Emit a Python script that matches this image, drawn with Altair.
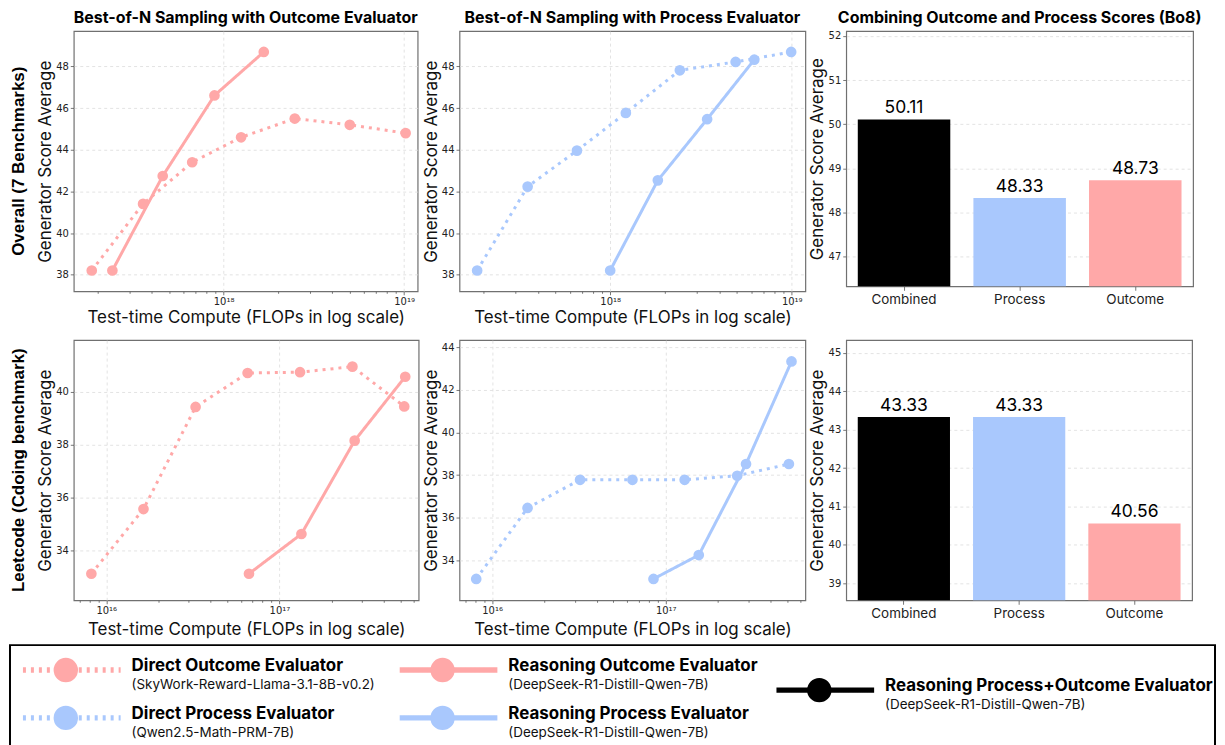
import altair as alt
import pandas as pd

PINK = "#ffa8a8"
BLUE = "#a9c8fd"
BLACK = "#000000"
SERIES = ["Direct", "Reasoning"]

# ---------------- Overall (7 benchmarks) ----------------
OVR_DIR_OUT_X = [1.86e17, 3.58e17, 6.70e17, 1.25e18, 2.48e18, 5.00e18, 1.02e19]
OVR_DIR_OUT_Y = [38.2, 41.4, 43.4, 44.6, 45.5, 45.2, 44.8]
OVR_RSN_OUT_X = [2.42e17, 4.60e17, 8.90e17, 1.67e18]
OVR_RSN_OUT_Y = [38.2, 42.74, 46.61, 48.7]
OVR_DIR_PRC_X = [1.85e17, 3.51e17, 6.56e17, 1.22e18, 2.42e18, 4.91e18, 9.93e18]
OVR_DIR_PRC_Y = [38.2, 42.23, 43.96, 45.77, 47.82, 48.22, 48.7]
OVR_RSN_PRC_X = [1.00e18, 1.83e18, 3.42e18, 6.22e18]
OVR_RSN_PRC_Y = [38.2, 42.53, 45.47, 48.33]

# ---------------- Leetcode ----------------
LC_DIR_OUT_X = [8.2e15, 1.64e16, 3.28e16, 6.55e16, 1.315e17, 2.64e17, 5.26e17]
LC_DIR_OUT_Y = [33.13, 35.57, 39.42, 40.70, 40.73, 40.94, 39.44]
LC_RSN_OUT_X = [6.67e16, 1.34e17, 2.72e17, 5.33e17]
LC_RSN_OUT_Y = [33.13, 34.63, 38.15, 40.56]
LC_DIR_PRC_X = [8.1e15, 1.60e16, 3.21e16, 6.43e16, 1.285e17, 2.58e17, 5.12e17]
LC_DIR_PRC_Y = [33.13, 36.46, 37.78, 37.78, 37.78, 37.97, 38.52]
LC_RSN_PRC_X = [8.5e16, 1.55e17, 2.90e17, 5.30e17]
LC_RSN_PRC_Y = [33.13, 34.25, 38.52, 43.33]

# ---------------- Bo8 bars ----------------
BAR_CATS = ["Combined", "Process", "Outcome"]
BAR_COLORS = [BLACK, BLUE, PINK]
OVR_BAR = [50.11, 48.33, 48.73]
LC_BAR = [43.33, 43.33, 40.56]

# ---------------- ticks / domains ----------------
TOP_X_DOMAIN = [1.479e17, 1.189e19]
BOT_X_DOMAIN = [6.49e15, 6.37e17]
TOP_X_TICKS = [m * 10.0 ** e for e in (17, 18) for m in range(2, 10)] + [1e18, 1e19]
BOT_X_TICKS = ([m * 1e15 for m in range(7, 10)] + [m * 1e16 for m in range(1, 10)]
               + [m * 1e17 for m in range(1, 7)])
OVR_Y_TICKS = [38, 40, 42, 44, 46, 48]
LC_OUT_Y_TICKS = [34, 36, 38, 40]
LC_PRC_Y_TICKS = [34, 36, 38, 40, 42, 44]
OVR_BAR_TICKS = [47, 48, 49, 50, 51, 52]
LC_BAR_TICKS = [39, 40, 41, 42, 43, 44, 45]

TITLES = ["Best-of-N Sampling with Outcome Evaluator",
          "Best-of-N Sampling with Process Evaluator",
          "Combining Outcome and Process Scores (Bo8)"]
ROW_LABELS = ["Overall (7 Benchmarks)", "Leetcode (Cdoing benchmark)"]
X_TITLE = "Test-time Compute (FLOPs in log scale)"
Y_TITLE = "Generator Score Average"

LEG_NAMES = ["Direct Outcome Evaluator", "Direct Process Evaluator",
             "Reasoning Outcome Evaluator", "Reasoning Process Evaluator",
             "Reasoning Process+Outcome Evaluator"]
LEG_MODELS = ["(SkyWork-Reward-Llama-3.1-8B-v0.2)", "(Qwen2.5-Math-PRM-7B)",
              "(DeepSeek-R1-Distill-Qwen-7B)", "(DeepSeek-R1-Distill-Qwen-7B)",
              "(DeepSeek-R1-Distill-Qwen-7B)"]
LEG_COLORS = [PINK, BLUE, PINK, BLUE, BLACK]
LEG_STYLE = ["dotted", "dotted", "solid", "solid", "solid"]

E = "round(log(datum.value)/LN10)"
MAJOR = f"abs(log(datum.value)/LN10 - {E}) < 0.001"
SUP = "'⁰¹²³⁴⁵⁶⁷⁸⁹'"
LABEL_EXPR = (f"{MAJOR} ? '10' + substring({SUP}, floor({E}/10), floor({E}/10)+1)"
              f" + substring({SUP}, {E}%10, {E}%10+1) : ''")

ROW_FONT = "Liberation Sans"


def title_params(text):
    return alt.TitleParams(text=text, font="Inter", fontSize=16, fontWeight="bold",
                           anchor="middle", frame="group", offset=-8,
                           baseline="alphabetic", color="black")


def line_df(dx, dy, rx, ry):
    return pd.DataFrame({
        "flops": list(dx) + list(rx),
        "score": list(dy) + list(ry),
        "series": ["Direct"] * len(dx) + ["Reasoning"] * len(rx),
    })


def line_panel(df, color, xdom, xticks, ydom, yticks, w, h, xpad, title=None, row_label=None):
    x = alt.X("flops:Q",
              scale=alt.Scale(type="log", domain=xdom, nice=False),
              axis=alt.Axis(values=xticks, labelExpr=LABEL_EXPR, labelOverlap=False,
                            labelFlush=False,
                            tickSize={"condition": {"test": MAJOR, "value": 3.5}, "value": 2.0},
                            gridOpacity={"condition": {"test": MAJOR, "value": 1}, "value": 0},
                            title=X_TITLE, titlePadding=xpad))
    y = alt.Y("score:Q",
              scale=alt.Scale(domain=ydom, nice=False, zero=False),
              axis=alt.Axis(values=yticks, title=Y_TITLE, titlePadding=1, tickSize=3.5))
    dash = alt.StrokeDash("series:N",
                          scale=alt.Scale(domain=SERIES, range=[[3, 5], [1, 0]]),
                          legend=None)
    base = alt.Chart(df)
    lines = base.mark_line(color=color, strokeWidth=3, strokeCap="butt").encode(
        x=x, y=y, strokeDash=dash, detail="series:N")
    pts = base.mark_circle(color=color, size=115, opacity=1).encode(x=x, y=y)
    layers = [lines, pts]
    if row_label:
        layers.append(
            alt.Chart(pd.DataFrame({"t": [row_label]})).mark_text(
                angle=270, font=ROW_FONT, fontSize=17, fontWeight="bold", color="black"
            ).encode(x=alt.value(-55), y=alt.value(h / 2), text="t:N"))
    ch = alt.layer(*layers).properties(width=w, height=h)
    if title:
        ch = ch.properties(title=title_params(title))
    return ch


def bar_panel(vals, ydom, yticks, w, h, title=None):
    df = pd.DataFrame({"cat": BAR_CATS, "v": vals})
    x = alt.X("cat:N", sort=BAR_CATS,
              scale=alt.Scale(paddingInner=0.2, paddingOuter=0.1),
              axis=alt.Axis(title=None, labelAngle=0, labelFont="Inter", labelFontSize=13.5,
                            tickSize=4, grid=False, labelPadding=2))
    y = alt.Y("v:Q", scale=alt.Scale(domain=ydom, nice=False, zero=False),
              axis=alt.Axis(values=yticks, title=Y_TITLE, titlePadding=2, tickSize=3.5))
    base = alt.Chart(df)
    bars = base.mark_bar().encode(
        x=x, y=y, y2=alt.datum(ydom[0]),
        color=alt.Color("cat:N", scale=alt.Scale(domain=BAR_CATS, range=BAR_COLORS), legend=None))
    text = base.mark_text(baseline="bottom", dy=-2, font="Inter", fontSize=17.5, color="black").encode(
        x=x, y=y, text=alt.Text("v:Q", format=".2f"))
    ch = alt.layer(bars, text).properties(width=w, height=h)
    if title:
        ch = ch.properties(title=title_params(title))
    return ch


p1 = line_panel(line_df(OVR_DIR_OUT_X, OVR_DIR_OUT_Y, OVR_RSN_OUT_X, OVR_RSN_OUT_Y), PINK,
                TOP_X_DOMAIN, TOP_X_TICKS, [37.2, 49.7], OVR_Y_TICKS, 345, 261, 3,
                title=TITLES[0], row_label=ROW_LABELS[0])
p2 = line_panel(line_df(OVR_DIR_PRC_X, OVR_DIR_PRC_Y, OVR_RSN_PRC_X, OVR_RSN_PRC_Y), BLUE,
                TOP_X_DOMAIN, TOP_X_TICKS, [37.2, 49.7], OVR_Y_TICKS, 347, 261, 3,
                title=TITLES[1])
p3 = bar_panel(OVR_BAR, [46.33, 52.11], OVR_BAR_TICKS, 348, 256, title=TITLES[2])

p4 = line_panel(line_df(LC_DIR_OUT_X, LC_DIR_OUT_Y, LC_RSN_OUT_X, LC_RSN_OUT_Y), PINK,
                BOT_X_DOMAIN, BOT_X_TICKS, [32.13, 41.94], LC_OUT_Y_TICKS, 346, 261, 6,
                row_label=ROW_LABELS[1])
p5 = line_panel(line_df(LC_DIR_PRC_X, LC_DIR_PRC_Y, LC_RSN_PRC_X, LC_RSN_PRC_Y), BLUE,
                BOT_X_DOMAIN, BOT_X_TICKS, [32.13, 44.33], LC_PRC_Y_TICKS, 347, 261, 6)
p6 = bar_panel(LC_BAR, [38.56, 45.33], LC_BAR_TICKS, 347, 261)

# ---------------- custom legend ----------------
leg = pd.DataFrame({
    "name": LEG_NAMES, "model": LEG_MODELS, "color": LEG_COLORS, "style": LEG_STYLE,
    "col": [0, 0, 1, 1, 2], "row": [0, 1, 0, 1, 0.42],
})
lx = alt.X("col:Q", scale=alt.Scale(domain=[0, 2], range=[-51, 705]), axis=None)
ly = alt.Y("row:Q", scale=alt.Scale(domain=[0, 1], range=[21, 69]), axis=None)
lcol = alt.Color("color:N", scale=None, legend=None)
lbase = alt.Chart(leg)
frame = alt.Chart(pd.DataFrame({"a": [0]})).mark_rect(
    fillOpacity=0, stroke="black", strokeWidth=2
).encode(x=alt.value(-64), x2=alt.value(1145), y=alt.value(-4), y2=alt.value(100))
lrule = lbase.mark_rule(strokeWidth=5.5, x2Offset=98, strokeCap="butt").encode(
    x=lx, x2="col:Q", y=ly, color=lcol,
    strokeDash=alt.StrokeDash("style:N",
                              scale=alt.Scale(domain=["dotted", "solid"], range=[[4, 5], [1, 0]]),
                              legend=None))
ldot = lbase.mark_circle(size=600, opacity=1, xOffset=43).encode(x=lx, y=ly, color=lcol)
lname = lbase.mark_text(align="left", baseline="middle", dx=109, dy=-4, font="Inter",
                        fontSize=17, fontWeight="bold", color="black").encode(x=lx, y=ly, text="name:N")
lmodel = lbase.mark_text(align="left", baseline="middle", dx=109, dy=15, font="Inter",
                         fontSize=13.5, color="#111").encode(x=lx, y=ly, text="model:N")
legend = alt.layer(frame, lrule, ldot, lname, lmodel).properties(
    width=346, height=90, view=alt.ViewBackground(stroke="transparent"))

chart = alt.concat(p1, p2, p3, p4, p5, p6, legend, columns=3,
                   spacing={"row": 49, "column": 41}, bounds="flush").properties(
    padding={"left": 0, "top": 0, "right": 0, "bottom": 0}
).configure_axis(
    domain=False, labelFont="DejaVu Sans", labelFontSize=10, labelColor="#222",
    tickColor="#555", tickWidth=0.8, gridColor="#dcdcdc", gridDash=[3, 3], gridWidth=0.8,
    titleFont="Inter", titleFontSize=17, titleFontWeight="normal", titleColor="#111",
    labelPadding=2
).configure_view(stroke="#707070", strokeWidth=1.2)

chart.save("out.html", embed_options={"renderer": "svg", "actions": False})
